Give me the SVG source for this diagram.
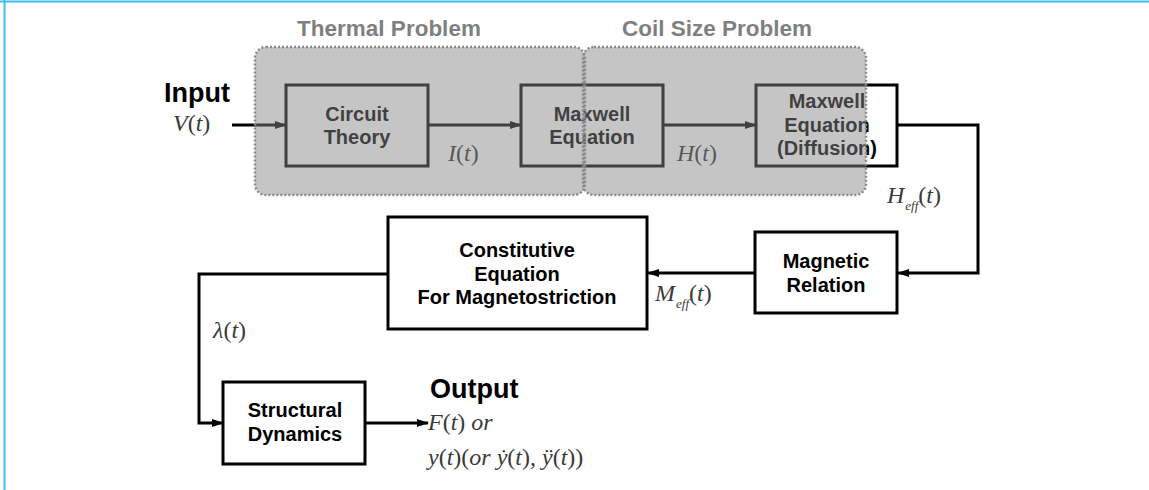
<svg xmlns="http://www.w3.org/2000/svg" width="1149" height="490" viewBox="0 0 1149 490">
  <style>
    .box { fill: #ffffff; stroke: #000000; stroke-width: 3; }
    .lbl { font-family: "Liberation Sans", Arial, sans-serif; font-weight: bold; font-size: 20px; fill: #000000; text-anchor: middle; }
    .big { font-family: "Liberation Sans", Arial, sans-serif; font-weight: bold; font-size: 27px; fill: #000000; }
    .title { font-family: "Liberation Sans", Arial, sans-serif; font-weight: bold; font-size: 22.5px; fill: #7f7f7f; text-anchor: middle; }
    .math { font-family: "Liberation Serif", "Times New Roman", serif; font-size: 24px; fill: #3a3a3a; }
    .it { font-style: italic; }
    .sub { font-style: italic; font-size: 13px; }
    .wire { fill: none; stroke: #000000; stroke-width: 3; }
    .region { fill: #858585; fill-opacity: 0.48; stroke: #8a8a8a; stroke-width: 2.5; stroke-dasharray: 2 2; }
  </style>
  <defs>
    <marker id="arrow" viewBox="0 0 12 10" refX="11" refY="5" markerWidth="12" markerHeight="10" markerUnits="userSpaceOnUse" orient="auto">
      <path d="M0,1 L12,5 L0,9 Z" fill="#000000"/>
    </marker>
  </defs>

  <rect width="1149" height="490" fill="#ffffff"/>
  <!-- frame lines -->
  <line x1="0" y1="1.5" x2="1149" y2="1.5" stroke="#3fbdf0" stroke-width="2"/>
  <line x1="4.5" y1="0" x2="4.5" y2="490" stroke="#3fbdf0" stroke-width="2"/>

  <!-- connectors -->
  <g id="connectors">
    <line class="wire" x1="232" y1="125" x2="286" y2="125" marker-end="url(#arrow)"/>
    <line class="wire" x1="428" y1="125" x2="521" y2="125" marker-end="url(#arrow)"/>
    <line class="wire" x1="663" y1="125" x2="756" y2="125" marker-end="url(#arrow)"/>
    <polyline class="wire" points="897,125 978,125 978,273 898,273" marker-end="url(#arrow)"/>
    <line class="wire" x1="755" y1="273" x2="648" y2="273" marker-end="url(#arrow)"/>
    <polyline class="wire" points="388,274 199,274 199,423 223,423" marker-end="url(#arrow)"/>
    <line class="wire" x1="365" y1="423" x2="428" y2="423" marker-end="url(#arrow)"/>
  </g>

  <!-- blocks -->
  <g id="circuit-theory">
    <rect class="box" x="286" y="85" width="142" height="81"/>
    <text class="lbl" x="357" y="121">Circuit</text>
    <text class="lbl" x="357" y="144">Theory</text>
  </g>
  <g id="maxwell-equation">
    <rect class="box" x="521" y="85" width="142" height="81"/>
    <text class="lbl" x="592" y="121">Maxwell</text>
    <text class="lbl" x="592" y="144">Equation</text>
  </g>
  <g id="maxwell-diffusion">
    <rect class="box" x="756" y="85" width="141" height="81"/>
    <text class="lbl" x="827" y="108">Maxwell</text>
    <text class="lbl" x="827" y="132">Equation</text>
    <text class="lbl" x="827" y="155">(Diffusion)</text>
  </g>
  <g id="magnetic-relation">
    <rect class="box" x="755" y="232" width="142" height="81"/>
    <text class="lbl" x="826" y="268">Magnetic</text>
    <text class="lbl" x="826" y="292">Relation</text>
  </g>
  <g id="constitutive-equation">
    <rect class="box" x="388" y="217" width="259" height="112"/>
    <text class="lbl" x="517" y="257">Constitutive</text>
    <text class="lbl" x="517" y="281">Equation</text>
    <text class="lbl" x="517" y="304">For Magnetostriction</text>
  </g>
  <g id="structural-dynamics">
    <rect class="box" x="223" y="382" width="142" height="82"/>
    <text class="lbl" x="295" y="417">Structural</text>
    <text class="lbl" x="295" y="441">Dynamics</text>
  </g>

  <!-- shaded problem regions laid over the blocks -->
  <g id="thermal-problem">
    <rect class="region" x="255" y="47" width="330" height="148" rx="11"/>
    <text class="title" x="389" y="36">Thermal Problem</text>
  </g>
  <g id="coil-size-problem">
    <rect class="region" x="583" y="47" width="283" height="148" rx="11"/>
    <text class="title" x="717" y="36">Coil Size Problem</text>
  </g>

  <!-- signal labels -->
  <g id="signals">
    <text class="big" x="164" y="102">Input</text>
    <text class="math" x="173" y="131"><tspan class="it">V</tspan>(<tspan class="it">t</tspan>)</text>
    <text class="math" x="448" y="161" fill-opacity="0.8"><tspan class="it">I</tspan>(<tspan class="it">t</tspan>)</text>
    <text class="math" x="677" y="161" fill-opacity="0.8"><tspan class="it">H</tspan>(<tspan class="it">t</tspan>)</text>
    <text class="math" x="887" y="203"><tspan class="it">H</tspan><tspan class="sub" dx="1" dy="7">eff</tspan><tspan dy="-7">(</tspan><tspan class="it">t</tspan>)</text>
    <text class="math" x="655" y="301"><tspan class="it">M</tspan><tspan class="sub" dx="1" dy="7">eff</tspan><tspan dy="-7">(</tspan><tspan class="it">t</tspan>)</text>
    <text class="math" x="213" y="338"><tspan class="it">λ</tspan>(<tspan class="it">t</tspan>)</text>
    <text class="big" x="430" y="398">Output</text>
    <text class="math" x="428" y="430"><tspan class="it">F</tspan>(<tspan class="it">t</tspan>) <tspan class="it">or</tspan></text>
    <text class="math" x="428" y="465"><tspan class="it">y</tspan>(<tspan class="it">t</tspan>)(<tspan class="it">or ẏ</tspan>(<tspan class="it">t</tspan>), <tspan class="it">ÿ</tspan>(<tspan class="it">t</tspan>))</text>
  </g>
</svg>
